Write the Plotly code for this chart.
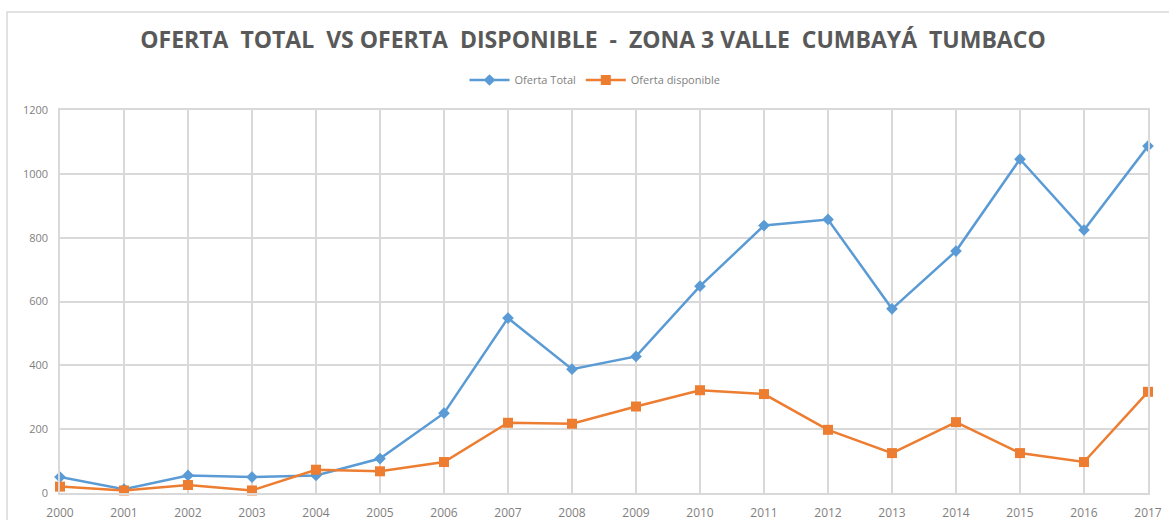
import plotly.graph_objects as go

years = list(range(2000, 2018))
oferta_total = [50, 12, 55, 50, 55, 108, 250, 548, 388, 428, 648, 838, 857, 577, 758, 1046, 824, 1087]
oferta_disponible = [20, 8, 25, 8, 73, 68, 97, 220, 217, 271, 322, 310, 198, 125, 222, 125, 97, 317]

y_ticks = [0, 200, 400, 600, 800, 1000, 1200]

BLUE = "#5b9bd5"
ORANGE = "#ed7d31"
GRID = "#d9d9d9"
TEXT = "#595959"

fig = go.Figure()
fig.add_trace(go.Scatter(
    x=years, y=oferta_total, name="Oferta Total", mode="lines+markers",
    line=dict(color=BLUE, width=2.5),
    marker=dict(symbol="diamond", size=9, color=BLUE),
    cliponaxis=False,
))
fig.add_trace(go.Scatter(
    x=years, y=oferta_disponible, name="Oferta disponible", mode="lines+markers",
    line=dict(color=ORANGE, width=2.5),
    marker=dict(symbol="square", size=10, color=ORANGE),
    cliponaxis=False,
))

L, R, T, B = 60, 21, 110, 27
W, H = 1169, 520
pw, ph = W - L - R, H - T - B

# outer chart-area frame
fig.add_shape(
    type="rect", xref="paper", yref="paper",
    x0=(7 - L) / pw, x1=(W + 20 - L) / pw,
    y0=-(H + 20 - (H - B)) / ph, y1=((H - B) - 12) / ph,
    line=dict(color=GRID, width=1.5), fillcolor="rgba(0,0,0,0)", layer="below",
)

fig.update_layout(
    width=W, height=H,
    margin=dict(l=L, r=R, t=T, b=B, autoexpand=False),
    paper_bgcolor="white", plot_bgcolor="white",
    title=dict(
        text="<b>OFERTA  TOTAL  VS OFERTA  DISPONIBLE  -  ZONA 3 VALLE  CUMBAYÁ  TUMBACO</b>",
        x=593 / W, xanchor="center", y=1 - 40 / H, yanchor="middle",
        font=dict(family="Open Sans", size=23, color=TEXT),
    ),
    legend=dict(
        orientation="h", x=(595 - L) / pw, xanchor="center",
        y=(H - B - 80) / ph, yanchor="middle",
        font=dict(family="Open Sans", size=11, color="#7f7f7f"),
        itemwidth=40,
    ),
    xaxis=dict(
        range=[2000, 2017], tickmode="array", tickvals=years,
        ticktext=[str(y) for y in years],
        showgrid=True, gridcolor=GRID, gridwidth=1.5,
        showline=True, linecolor=GRID, linewidth=1.5, mirror=True,
        zeroline=False, ticks="", ticklabelstandoff=8, automargin=False,
        tickfont=dict(family="Open Sans", size=12, color="#7f7f7f"),
    ),
    yaxis=dict(
        range=[0, 1200], tickmode="array", tickvals=y_ticks,
        showgrid=True, gridcolor=GRID, gridwidth=1.5,
        showline=True, linecolor=GRID, linewidth=1.5, mirror=True,
        zeroline=False, ticks="", ticklabelstandoff=8, automargin=False,
        tickfont=dict(family="Open Sans", size=11, color="#7f7f7f"),
    ),
)

fig.write_html("out.html")
